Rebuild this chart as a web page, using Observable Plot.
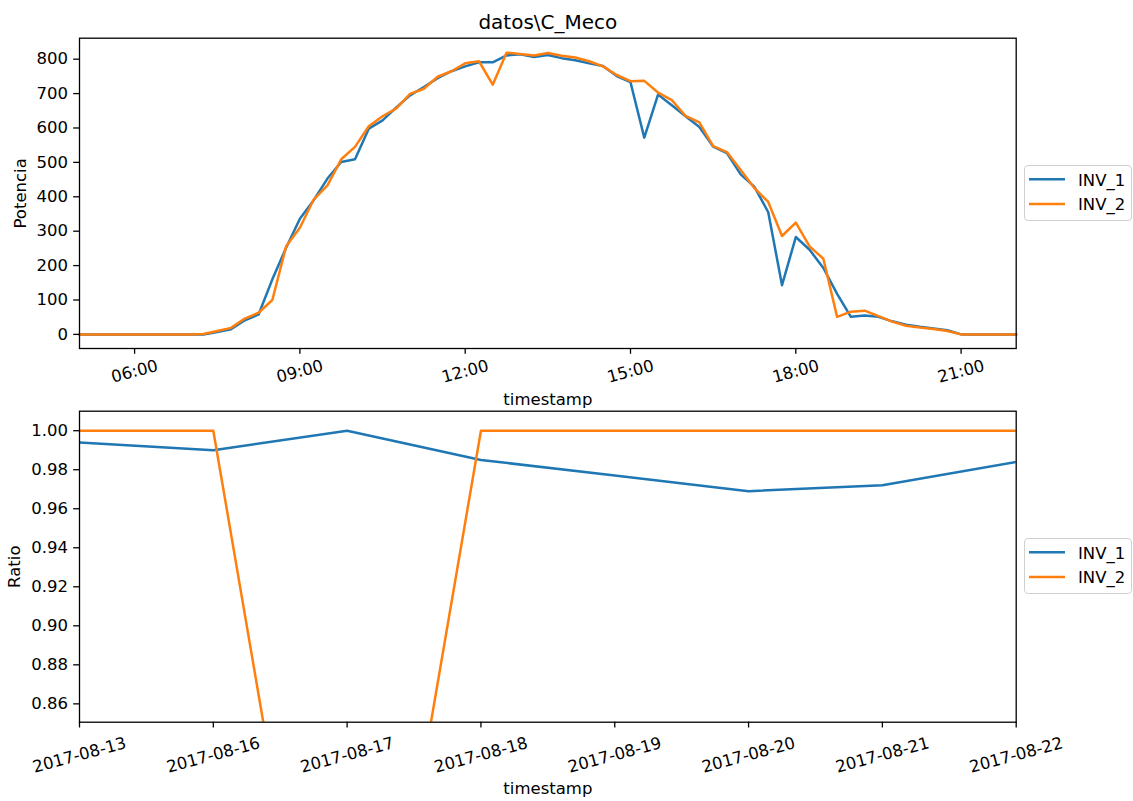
<!DOCTYPE html>
<html><head><meta charset="utf-8">
<script src="https://cdn.jsdelivr.net/npm/d3@7"></script>
<script src="https://cdn.jsdelivr.net/npm/@observablehq/plot@0.6"></script>
<style>
body{margin:0;background:#fff;font-family:"DejaVu Sans",sans-serif;}
#fig{position:relative;width:1133px;height:801px;overflow:hidden;background:#fff;}
.panel{position:absolute;left:0;}
.legend{position:absolute;left:1024px;width:108px;height:56px;border:1px solid #d0d0d0;border-radius:4px;background:#fff;box-sizing:border-box;}
.legend svg{position:absolute;left:-1px;top:-1px;overflow:visible;}
.legend text{font-family:"DejaVu Sans",sans-serif;font-size:16.5px;fill:#000;}
</style>
</head><body>
<div id="fig">
  <div id="bottom" class="panel" style="top:400px"></div>
  <div id="top" class="panel" style="top:0px"></div>
  <div id="legTop" class="legend" style="top:165px"></div>
  <div id="legBottom" class="legend" style="top:538px"></div>
</div>
<script>
// ---- data ----
const title = "datos\\C_Meco";
const seriesNames = ["INV_1", "INV_2"];
const seriesColors = ["#1f77b4", "#ff7f0e"];

const times = ["05:00","05:15","05:30","05:45","06:00","06:15","06:30","06:45",
  "07:00","07:15","07:30","07:45","08:00","08:15","08:30","08:45",
  "09:00","09:15","09:30","09:45","10:00","10:15","10:30","10:45",
  "11:00","11:15","11:30","11:45","12:00","12:15","12:30","12:45",
  "13:00","13:15","13:30","13:45","14:00","14:15","14:30","14:45",
  "15:00","15:15","15:30","15:45","16:00","16:15","16:30","16:45",
  "17:00","17:15","17:30","17:45","18:00","18:15","18:30","18:45",
  "19:00","19:15","19:30","19:45","20:00","20:15","20:30","20:45",
  "21:00","21:15","21:30","21:45","22:00"];
const inv1Power = [0,0,0,0,0,0,0,0,
  0,0,7,15,41,58,160,252,
  336,390,453,501,509,598,622,660,
  695,719,745,765,779,791,791,811,
  814,806,812,803,797,788,780,751,
  733,572,697,666,634,603,546,527,
  465,429,355,143,283,246,193,118,
  51,55,51,38,28,22,17,12,
  0,0,0,0,0];
const inv2Power = [0,0,0,0,0,0,0,0,
  0,1,10,19,46,63,100,256,
  310,392,433,509,545,605,634,657,
  699,714,749,765,788,794,726,819,
  815,811,818,810,805,794,779,754,
  736,737,703,681,635,616,547,530,
  478,425,385,286,325,256,220,51,
  66,69,53,37,25,20,16,10,
  0,0,0,0,0];
const hourTicks = ["06:00","09:00","12:00","15:00","18:00","21:00"];
const powerTicks = [0,100,200,300,400,500,600,700,800];

const days = ["2017-08-13","2017-08-16","2017-08-17","2017-08-18","2017-08-19","2017-08-20","2017-08-21","2017-08-22"];
const inv1Ratio = [0.994,0.990,1.000,0.985,0.977,0.969,0.972,0.984];
const inv2Ratio = [1.000,1.000,0.600,1.000,1.000,1.000,1.000,1.000];
const ratioTicks = [0.86,0.88,0.90,0.92,0.94,0.96,0.98,1.00];

// ---- build ----
const parseT = t => new Date(`2017-08-22T${t}:00Z`);
const powerRows = times.flatMap((t, i) => [
  {time: parseT(t), value: inv1Power[i], series: seriesNames[0]},
  {time: parseT(t), value: inv2Power[i], series: seriesNames[1]}
]);
const ratioRows = days.flatMap((d, i) => [
  {day: d, value: inv1Ratio[i], series: seriesNames[0]},
  {day: d, value: inv2Ratio[i], series: seriesNames[1]}
]);

const W = 1133, ML = 79, MR = 117.3;
const style = {fontFamily: "DejaVu Sans", fontSize: "16.5px", color: "black", background: "transparent", overflow: "visible"};
const tk = 5.8;

const topPlot = Plot.plot({
  width: W, height: 400,
  marginLeft: ML, marginRight: MR, marginTop: 37.7, marginBottom: 52,
  style,
  x: {type: "utc", domain: [parseT(times[0]), parseT(times[times.length - 1])]},
  y: {domain: [-41, 861]},
  color: {domain: seriesNames, range: seriesColors},
  marks: [
    Plot.lineY(powerRows, {x: "time", y: "value", stroke: "series", strokeWidth: 2.5}),
    Plot.frame({stroke: "black", strokeWidth: 1.3}),
    Plot.axisY({ticks: powerTicks, tickSize: tk, tickPadding: tk, label: null, strokeWidth: 1.3, fontSize: 16.5}),
    Plot.axisX({ticks: hourTicks.map(parseT), tickSize: tk, tickFormat: () => "", label: null, strokeWidth: 1.3}),
    Plot.text(hourTicks, {x: d => parseT(d), text: d => d, frameAnchor: "bottom", dy: 23, rotate: -15, textAnchor: "middle", lineAnchor: "middle", fill: "black", fontSize: 16.5}),
    Plot.text(["Potencia"], {text: d => d, frameAnchor: "left", dx: -59, rotate: -90, textAnchor: "middle", lineAnchor: "middle", fill: "black", fontSize: 16.5}),
    Plot.text(["timestamp"], {text: d => d, frameAnchor: "bottom", dy: 51, textAnchor: "middle", lineAnchor: "middle", fill: "black", fontSize: 16.5}),
    Plot.text([title], {text: d => d, frameAnchor: "top", dy: -16, textAnchor: "middle", lineAnchor: "middle", fill: "black", fontSize: 20})
  ]
});
document.getElementById("top").appendChild(topPlot);

const bottomPlot = Plot.plot({
  width: W, height: 401,
  marginLeft: ML, marginRight: MR, marginTop: 10.7, marginBottom: 79.3,
  style,
  x: {type: "point", domain: days, padding: 0, round: false},
  y: {domain: [0.8506, 1.01]},
  color: {domain: seriesNames, range: seriesColors},
  marks: [
    Plot.lineY(ratioRows, {x: "day", y: "value", stroke: "series", strokeWidth: 2.5, clip: true}),
    Plot.frame({stroke: "black", strokeWidth: 1.3}),
    Plot.axisY({ticks: ratioTicks, tickSize: tk, tickPadding: tk, tickFormat: d3.format(".2f"), label: null, strokeWidth: 1.3, fontSize: 16.5}),
    Plot.axisX({ticks: days, tickSize: tk, tickFormat: () => "", label: null, strokeWidth: 1.3}),
    Plot.text(days, {x: d => d, text: d => d, frameAnchor: "bottom", dy: 33, rotate: -15, textAnchor: "middle", lineAnchor: "middle", fill: "black", fontSize: 16.5}),
    Plot.text(["Ratio"], {text: d => d, frameAnchor: "left", dx: -64.5, rotate: -90, textAnchor: "middle", lineAnchor: "middle", fill: "black", fontSize: 16.5}),
    Plot.text(["timestamp"], {text: d => d, frameAnchor: "bottom", dy: 66.5, textAnchor: "middle", lineAnchor: "middle", fill: "black", fontSize: 16.5})
  ]
});
document.getElementById("bottom").appendChild(bottomPlot);

// legends
function buildLegend(id) {
  const ns = "http://www.w3.org/2000/svg";
  const svg = document.createElementNS(ns, "svg");
  svg.setAttribute("width", 108); svg.setAttribute("height", 56);
  seriesNames.forEach((name, i) => {
    const y = 14.3 + i * 24.7;
    const line = document.createElementNS(ns, "line");
    line.setAttribute("x1", 5); line.setAttribute("x2", 41);
    line.setAttribute("y1", y); line.setAttribute("y2", y);
    line.setAttribute("stroke", seriesColors[i]); line.setAttribute("stroke-width", 2.5);
    svg.appendChild(line);
    const t = document.createElementNS(ns, "text");
    t.setAttribute("x", 54); t.setAttribute("y", y + 6.2);
    t.textContent = name;
    svg.appendChild(t);
  });
  document.getElementById(id).appendChild(svg);
}
buildLegend("legTop");
buildLegend("legBottom");
</script>
</body></html>
